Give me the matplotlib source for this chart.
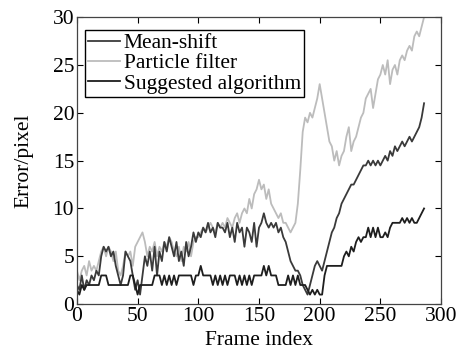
import numpy as np
import matplotlib
matplotlib.use('Agg')
import matplotlib.pyplot as plt

# 読み取ったデータ (フレーム 0, 2, 4, ..., 286)
frames = np.arange(0, 288, 2)

mean_shift = [
    2, 1.5, 3, 1.5, 2.5, 2, 3, 2.5, 3.5, 3,
    5, 6, 5.5, 6, 5, 5.5, 4, 3, 2, 3,
    5.5, 5, 4.5, 3, 1.5, 2.5, 1, 3, 5, 4,
    5.5, 3.5, 6, 3, 5.5, 4.5, 6.5, 5.5, 7, 6,
    5, 6.5, 4.5, 5.5, 4, 6.5, 5, 6, 7.5, 6.5,
    7.5, 7, 8, 7.5, 8.5, 7.5, 8, 7, 8.5, 8,
    8, 7.5, 8.5, 7, 8, 6.5, 8.5, 7.5, 8, 6,
    8, 7.5, 6.5, 8.5, 6, 8, 8.5, 9.5, 8.5, 8,
    8.5, 8, 8.5, 7.5, 8, 7, 6.5, 5.5, 4.5, 4,
    3.5, 3.5, 3, 2, 1.5, 1, 2, 3, 4, 4.5,
    4, 3.5, 4.5, 5.5, 6.5, 7.5, 8, 9, 9.5, 10.5,
    11, 11.5, 12, 12.5, 12.5, 13, 13.5, 14, 14.5, 14.5,
    15, 14.5, 15, 14.5, 15, 14.5, 15, 15.5, 15, 16,
    15.5, 16.5, 16, 16.5, 17, 16.5, 17, 17.5, 17, 17.5,
    18, 18.5, 19.5, 21,
]

particle_filter = [
    3.5, 2.5, 3.5, 4, 3, 4.5, 3.5, 4, 3.5, 4.5,
    5.5, 6, 5, 6, 5.5, 4.5, 5.5, 3.5, 3, 4,
    5.5, 5, 5.5, 4, 6, 6.5, 7, 7.5, 6.5, 5,
    6, 5.5, 6.5, 5, 6, 5.5, 6.5, 6, 7, 6.5,
    5.5, 5, 6, 4.5, 6, 5.5, 6.5, 5, 6.5, 7,
    7, 7.5, 8, 7.5, 8, 8.5, 8, 7.5, 8.5, 8,
    8.5, 8, 9, 8.5, 8, 9, 9.5, 8.5, 9.5, 10,
    9.5, 11, 10, 11.5, 12, 13, 12, 12.5, 11, 12,
    10.5, 10, 9.5, 9, 9.5, 8.5, 8.5, 8, 7.5, 8,
    8.5, 10.5, 14, 18, 19.5, 19, 20, 19.5, 20.5, 21.5,
    23, 21.5, 20, 18.5, 17, 16.5, 15, 16, 14.5, 15.5,
    16, 17.5, 18.5, 16, 17, 17.5, 18.5, 19.5, 20, 21.5,
    22, 22.5, 20.5, 22, 23.5, 24, 25, 24, 25.5, 23,
    24.5, 25, 24, 25.5, 26, 25.5, 26.5, 27, 26.5, 28,
    28.5, 28, 29, 30,
]

suggested = [
    1.5, 1, 2, 1.5, 2, 2, 2, 2, 2, 2,
    3, 3, 3, 2, 2, 2, 2, 2, 2, 2,
    2, 2, 3, 3, 2, 1, 2, 2, 2, 2,
    2, 2, 3, 3, 3, 2, 3, 2, 3, 2,
    3, 2, 3, 3, 3, 3, 3, 3, 2, 3,
    3, 4, 3, 3, 3, 3, 2, 3, 2, 3,
    2, 3, 2, 3, 3, 3, 2, 3, 2, 3,
    2, 3, 2, 3, 3, 3, 3, 4, 3, 4,
    3, 3, 3, 2, 2, 2, 2, 3, 2, 3,
    2, 3, 2, 2, 2, 1.5, 1, 1.5, 1, 1.5,
    1, 1, 3, 4, 4, 4, 4, 4, 4, 4,
    5, 5.5, 5, 6, 5.5, 6.5, 7, 6.5, 7, 7,
    8, 7, 8, 7, 8, 7, 7, 7.5, 7, 8,
    8.5, 8.5, 8.5, 8.5, 9, 8.5, 9, 8.5, 9, 8.5,
    8.5, 9, 9.5, 10,
]

names = ['Mean-shift', 'Particle filter', 'Suggested algorithm']

plt.rcParams['font.family'] = ['Liberation Serif', 'DejaVu Serif']
plt.rcParams['font.size'] = 15.5

fig = plt.figure(figsize=(4.58, 3.5), dpi=100)
ax = fig.add_axes([0.168, 0.131, 0.795, 0.82])

l2, = ax.plot(frames, particle_filter, color='#bcbcbc', lw=1.3, label=names[1])
l1, = ax.plot(frames, mean_shift, color='#3a3a3a', lw=1.3, label=names[0])
l3, = ax.plot(frames, suggested, color='#1e1e1e', lw=1.3, label=names[2])

ax.set_xlim(0, 300)
ax.set_ylim(0, 30)
ax.set_xticks(range(0, 301, 50))
ax.set_yticks(range(0, 31, 5))
ax.tick_params(direction='in', length=4, width=0.8, top=True, right=True, pad=2)
for s in ax.spines.values():
    s.set_linewidth(0.9)
    s.set_color('#444444')

ax.set_xlabel('Frame index', labelpad=4)
ax.set_ylabel('Error/pixel', labelpad=14)

leg = ax.legend(handles=[l1, l2, l3], loc='upper left',
                bbox_to_anchor=(0.022, 0.955), borderaxespad=0,
                fancybox=False, edgecolor='black', framealpha=1,
                handlelength=1.5, handletextpad=0.15, labelspacing=0.0,
                borderpad=0.15)
leg.get_frame().set_linewidth(1.0)

fig.savefig('out.png', dpi=100)
